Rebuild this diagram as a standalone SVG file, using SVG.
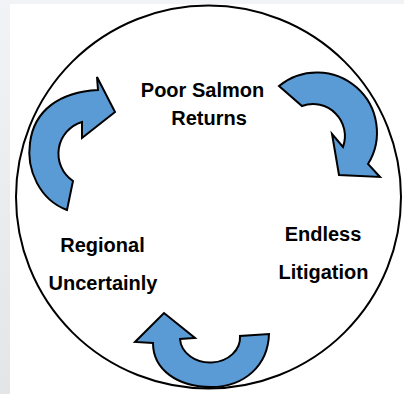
<svg xmlns="http://www.w3.org/2000/svg" width="404" height="394" viewBox="0 0 404 394">
  <defs>
    <linearGradient id="bgGrad" x1="0" y1="0" x2="0" y2="1">
      <stop offset="0" stop-color="#f1f3f6"/>
      <stop offset="1" stop-color="#e3e5e6"/>
    </linearGradient>
  </defs>
  <style>
    .lbl { font-family: "Liberation Sans", Arial, sans-serif; font-weight: bold; font-size: 20px; fill: #000; text-anchor: middle; }
    .arrow { fill: #5b9bd5; stroke: #000; stroke-width: 2; stroke-linejoin: miter; }
    .ring { fill: none; stroke: #000; stroke-width: 2; }
  </style>
  <rect x="0" y="0" width="404" height="394" fill="url(#bgGrad)"/>
  <rect x="10" y="4" width="394" height="390" fill="#ffffff"/>

  <g id="cycle-ring">
    <ellipse class="ring" cx="208.5" cy="197" rx="192.5" ry="191.5"/>
  </g>

  <g id="connectors">
    <path class="arrow" d="M 279,86 A 60 60 0 0 1 368,164 L 380,177 L 339,175 L 332,134 L 343,147 A 32 32 0 0 0 302,106 Z"/>
    <path class="arrow" d="M 269,334 C 268,365 245,387 211,387 C 178,387 153,370 153,343 L 135,342 L 164,313 L 195,338 L 180,339 A 30 25 0 0 0 240,336 Z"/>
    <path class="arrow" d="M 67,210 C 40,200 26,170 30,143 C 34,110 60,92 98,90 L 97,77 L 115,112 L 82,138 L 82,122 A 33 33 0 0 0 73,181 Z"/>
  </g>

  <g id="node-poor-salmon">
    <text class="lbl" x="202.5" y="97">Poor Salmon</text>
    <text class="lbl" x="209" y="125">Returns</text>
  </g>
  <g id="node-endless-litigation">
    <text class="lbl" x="323" y="241">Endless</text>
    <text class="lbl" x="323.5" y="279">Litigation</text>
  </g>
  <g id="node-regional-uncertainly">
    <text class="lbl" x="102.5" y="252">Regional</text>
    <text class="lbl" x="103" y="290">Uncertainly</text>
  </g>
</svg>
